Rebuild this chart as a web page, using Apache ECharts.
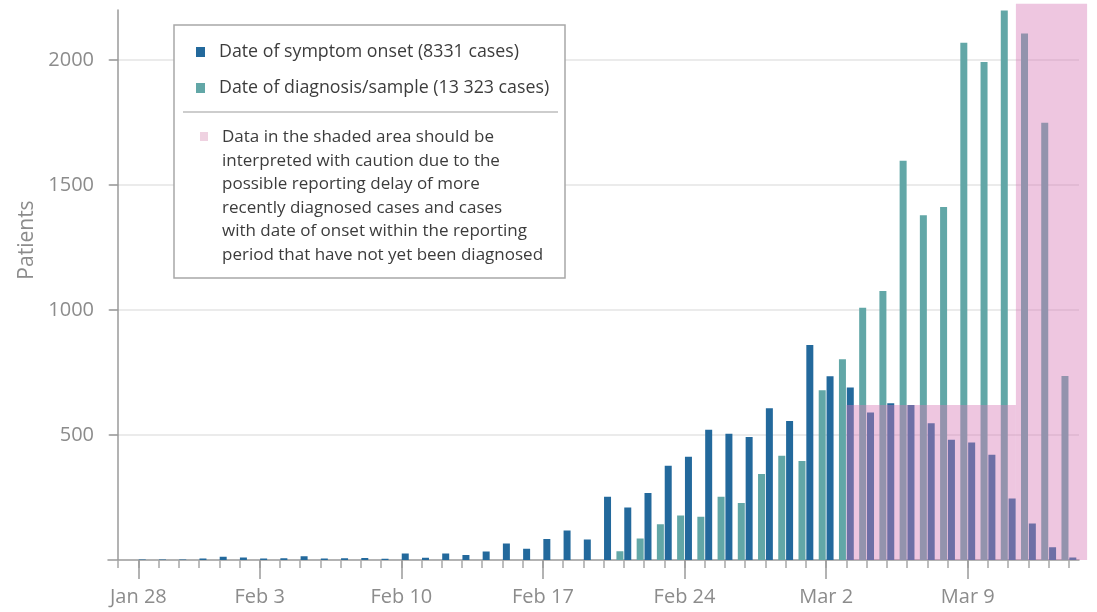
<!DOCTYPE html>
<html>
<head>
<meta charset="utf-8">
<script src="https://cdn.jsdelivr.net/npm/echarts@6/dist/echarts.min.js"></script>
<style>
html,body{margin:0;padding:0;background:#fff;}
#chart{width:1097px;height:612px;}
</style>
</head>
<body>
<div id="chart"></div>
<script>
var dates = ['Jan 27','Jan 28','Jan 29','Jan 30','Jan 31','Feb 1','Feb 2','Feb 3','Feb 4','Feb 5','Feb 6','Feb 7','Feb 8','Feb 9',
  'Feb 10','Feb 11','Feb 12','Feb 13','Feb 14','Feb 15','Feb 16','Feb 17','Feb 18','Feb 19',
  'Feb 20','Feb 21','Feb 22','Feb 23','Feb 24','Feb 25','Feb 26','Feb 27','Feb 28','Feb 29',
  'Mar 1','Mar 2','Mar 3','Mar 4','Mar 5','Mar 6','Mar 7','Mar 8','Mar 9','Mar 10','Mar 11','Mar 12','Mar 13','Mar 14'];
var labelledDates = ['Jan 28','Feb 3','Feb 10','Feb 17','Feb 24','Mar 2','Mar 9'];
var onsetCases = [0,2,2,2,6,13,10,6,7,15,6,7,8,5,
  26,9,26,20,34,66,45,84,118,82,
  253,210,268,377,413,521,505,492,607,556,
  860,735,690,590,627,620,547,481,470,421,246,146,51,10];
var diagnosisCases = [0,0,0,0,0,0,0,0,0,0,0,0,0,0,
  0,0,0,0,0,0,0,0,0,0,
  0,35,86,143,178,173,253,228,344,417,
  396,679,803,1009,1076,1597,1379,1412,2069,1992,2198,2106,1749,736];
var yTicks = [500,1000,1500,2000];
// shaded regions: [startDayIndex, endDayIndex, topValue]
var shadedRegions = [[36, 44.38, 620], [44.38, 47.9, 2225]];
var onsetName = 'Date of symptom onset (8331 cases)';
var diagName = 'Date of diagnosis/sample (13 323 cases)';
var noteLines = ['Data in the shaded area should be','interpreted with caution due to the','possible reporting delay of more','recently diagnosed cases and cases','with date of onset within the reporting','period that have not yet been diagnosed'];

var BLUE = '#23699c';
var TEAL = '#62a7a7';
var FONT = '"Open Sans", sans-serif';
var AXIS_GRAY = '#9a9a9a';
var LABEL_GRAY = '#8c8c8c';
var isLabelled = function(i, v){ return labelledDates.indexOf(v !== undefined ? v : dates[i]) >= 0; };

var chart = echarts.init(document.getElementById('chart'), null, {renderer:'canvas'});
chart.setOption({
  animation: false,
  backgroundColor: '#fff',
  grid: {left:108, right:18, top:10, bottom:52, containLabel:false},
  xAxis: [
    {type:'category', data:dates, boundaryGap:true, position:'bottom',
     axisLine:{show:true, lineStyle:{color:AXIS_GRAY, width:1.5}},
     axisTick:{show:true, alignWithLabel:true, interval:0, length:8, lineStyle:{color:'#a8a8a8', width:1.5}},
     axisLabel:{show:true, interval:0, formatter:function(){return '';}}, splitLine:{show:false}},
    {type:'category', data:dates, boundaryGap:true, position:'bottom',
     axisLine:{show:false},
     axisTick:{show:true, alignWithLabel:true, interval:function(i,v){return isLabelled(i,v);}, length:19, lineStyle:{color:AXIS_GRAY, width:1.5}},
     axisLabel:{show:true, interval:function(i,v){return isLabelled(i,v);}, color:LABEL_GRAY, fontSize:20, fontFamily:FONT, margin:27},
     splitLine:{show:false}},
    {type:'value', min:-0.5, max:dates.length-0.5, show:false}
  ],
  yAxis: {type:'value', min:0, max:2200,
    name:'Patients', nameLocation:'middle', nameGap:68,
    nameTextStyle:{color:LABEL_GRAY, fontSize:21, fontFamily:FONT, padding:[0,0,0,90]},
    axisLine:{show:true, lineStyle:{color:AXIS_GRAY, width:1.5}},
    axisTick:{show:true, length:9, customValues:yTicks, lineStyle:{color:AXIS_GRAY, width:1.5}},
    axisLabel:{show:true, customValues:yTicks, formatter:function(v){return String(v);}, color:LABEL_GRAY, fontSize:20, fontFamily:FONT, margin:14},
    splitLine:{show:true, lineStyle:{color:'#e4e4e4', width:1.5}}
  },
  series: [
    {name:diagName, type:'bar', xAxisIndex:0, data:diagnosisCases, barWidth:7, barGap:'12%', itemStyle:{color:TEAL}, z:2},
    {name:onsetName, type:'bar', xAxisIndex:0, data:onsetCases, barWidth:7, barGap:'12%', itemStyle:{color:BLUE}, z:2},
    {name:'shade', type:'custom', xAxisIndex:2, yAxisIndex:0, clip:false, silent:true, z:10,
     encode:{x:[0,1], y:2},
     data: shadedRegions,
     renderItem:function(params, api){
       var p0 = api.coord([api.value(0), api.value(2)]);
       var p1 = api.coord([api.value(1), 0]);
       return {type:'rect', shape:{x:p0[0], y:p0[1], width:p1[0]-p0[0], height:p1[1]-p0[1]},
               style:{fill:'rgba(215,120,180,0.42)'}};
     }}
  ],
  graphic: [
    {type:'rect', z:100, shape:{x:174, y:25, width:391, height:253}, style:{fill:'#fff', stroke:'#a8a8a8', lineWidth:1.5}},
    {type:'rect', z:101, shape:{x:196, y:47, width:9, height:10}, style:{fill:BLUE}},
    {type:'text', z:101, style:{x:219, y:52, text:onsetName, fill:'#3c3c3c', fontSize:17.8, fontFamily:FONT, verticalAlign:'middle'}},
    {type:'rect', z:101, shape:{x:196, y:83, width:9, height:10}, style:{fill:TEAL}},
    {type:'text', z:101, style:{x:219, y:88, text:diagName, fill:'#3c3c3c', fontSize:17.8, fontFamily:FONT, verticalAlign:'middle'}},
    {type:'line', z:101, shape:{x1:183, y1:112, x2:558, y2:112}, style:{stroke:'#bdbdbd', lineWidth:1.5}},
    {type:'rect', z:101, shape:{x:200, y:132, width:8, height:9}, style:{fill:'#efd2e1'}},
    {type:'text', z:101, style:{x:222, y:125.5, text:noteLines.join('\n'), fill:'#3c3c3c', fontSize:17, fontFamily:FONT, lineHeight:23.5, verticalAlign:'top'}}
  ]
});
</script>
</body>
</html>
